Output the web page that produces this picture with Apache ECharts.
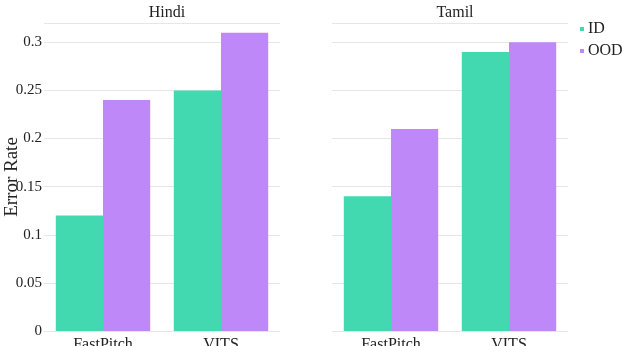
<!DOCTYPE html>
<html>
<head>
<meta charset="utf-8">
<script src="https://cdn.jsdelivr.net/npm/echarts@6/dist/echarts.min.js"></script>
<style>
  html, body { margin: 0; padding: 0; background: #fff; }
  #chart { width: 622px; height: 346px; }
</style>
</head>
<body>
<div id="chart"></div>
<script>
// data
var models = ['FastPitch', 'VITS'];
var panels = ['Hindi', 'Tamil'];
var hindiID = [0.12, 0.25];
var hindiOOD = [0.24, 0.31];
var tamilID = [0.14, 0.29];
var tamilOOD = [0.21, 0.30];
var yTicks = [0, 0.05, 0.1, 0.15, 0.2, 0.25, 0.3];

var colorID = '#42d9b0';
var colorOOD = '#bf88f8';
var font = '"Liberation Serif", serif';

var chart = echarts.init(document.getElementById('chart'));

function xAxis(idx) {
  return {
    type: 'category',
    gridIndex: idx,
    data: models,
    axisLine: { show: false },
    axisTick: { show: false },
    axisLabel: { color: '#222', fontFamily: font, fontSize: 16, margin: 6 }
  };
}

function yAxis(idx, showLabels) {
  return {
    type: 'value',
    gridIndex: idx,
    min: 0,
    max: 0.32,
    interval: 0.05,
    name: showLabels ? 'Error Rate' : '',
    nameLocation: 'middle',
    nameGap: 22,
    nameMoveOverlap: false,
    nameTextStyle: { color: '#222', fontFamily: font, fontSize: 19 },
    axisLine: { show: false },
    axisTick: { show: false },
    axisLabel: {
      show: showLabels,
      showMaxLabel: false,
      color: '#222',
      fontFamily: font,
      fontSize: 15,
      margin: 2,
      formatter: function (v) { return yTicks.indexOf(+v.toFixed(2)) >= 0 ? String(+v.toFixed(2)) : ''; }
    },
    splitLine: { lineStyle: { color: '#e6e6e6', width: 1 } }
  };
}

function bar(name, data, idx, color) {
  return {
    name: name,
    type: 'bar',
    xAxisIndex: idx,
    yAxisIndex: idx,
    data: data,
    barGap: '0%',
    barCategoryGap: '20%',
    itemStyle: { color: color },
    emphasis: { disabled: true }
  };
}

var option = {
  backgroundColor: '#fff',
  animation: false,
  textStyle: { fontFamily: font },
  title: [
    { text: panels[0], left: 162, top: 0, textAlign: 'center',
      textStyle: { fontFamily: font, fontSize: 16, fontWeight: 'normal', color: '#222' } },
    { text: panels[1], left: 450, top: 0, textAlign: 'center',
      textStyle: { fontFamily: font, fontSize: 16, fontWeight: 'normal', color: '#222' } }
  ],
  legend: {
    orient: 'vertical',
    left: 580,
    top: 21,
    padding: 0,
    itemWidth: 4,
    itemHeight: 4,
    itemGap: 6,
    icon: 'rect',
    data: ['ID', 'OOD'],
    textStyle: { fontFamily: font, fontSize: 16, color: '#222', padding: [0, 0, 0, -1] }
  },
  grid: [
    { left: 44, width: 236, top: 23, bottom: 15, outerBoundsMode: 'none' },
    { left: 332, width: 236, top: 23, bottom: 15, outerBoundsMode: 'none' }
  ],
  xAxis: [xAxis(0), xAxis(1)],
  yAxis: [yAxis(0, true), yAxis(1, false)],
  series: [
    bar('ID', hindiID, 0, colorID),
    bar('OOD', hindiOOD, 0, colorOOD),
    bar('ID', tamilID, 1, colorID),
    bar('OOD', tamilOOD, 1, colorOOD)
  ]
};

chart.setOption(option);
</script>
</body>
</html>
